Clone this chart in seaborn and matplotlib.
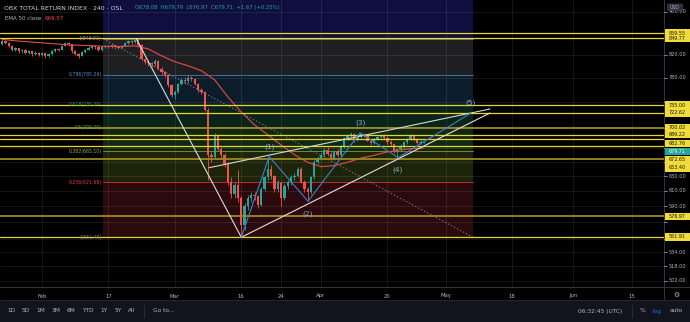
import matplotlib
matplotlib.use("Agg")
import matplotlib.pyplot as plt
from matplotlib.patches import Rectangle, FancyBboxPatch
from matplotlib.lines import Line2D
import numpy as np
import pandas as pd
import seaborn as sns

# ---------------- data ----------------
# 4h candles of the OBX total return index; bar 0 = first bar of February
bar_start = -12
opens = [840, 845, 842, 836, 828, 832, 826, 829, 824, 826, 821, 824,
         820, 823, 818, 821, 826, 831, 829, 836, 841, 839, 826, 822,
         818, 825, 829, 833, 836, 834, 828, 834, 836, 835, 837, 834,
         833, 836, 841, 845, 843, 847, 838, 812, 808, 805, 803, 809,
         795, 790, 785, 768, 752, 756, 770, 776, 774, 780, 778, 770,
         760, 757, 728, 660, 656, 688, 668, 660, 647, 622, 606, 618,
         600, 566, 590, 600, 605, 603, 592, 612, 628, 640, 630, 612,
         620, 600, 616, 622, 628, 630, 640, 622, 612, 608, 628, 650,
         655, 659, 667, 661, 655, 665, 660, 672, 684, 689, 691, 682,
         686, 691, 688, 680, 677, 683, 686, 689, 685, 679, 675, 665,
         668, 672, 678, 683, 688, 682, 677, 678.08]
highs = [848, 846, 843, 838, 834, 833, 831, 830, 828, 827, 826, 825,
         825, 824, 823, 828, 833, 833, 838, 843, 843, 840, 828, 824,
         827, 831, 835, 838, 838, 835, 836, 838, 838, 839, 838, 836,
         838, 843, 847, 846, 848.91, 848, 839, 815, 811, 808, 812, 810,
         798, 792, 786, 770, 760, 772, 779, 782, 784, 783, 779, 772,
         763, 758, 730, 664, 692, 690, 671, 662, 650, 628, 622, 638,
         603, 594, 604, 608, 609, 605, 615, 630, 657, 645, 632, 624,
         622, 620, 625, 631, 634, 643, 642, 624, 615, 630, 652, 658,
         662, 669, 671, 664, 667, 668, 674, 686, 691, 694, 692, 687,
         692, 692, 690, 683, 685, 688, 691, 690, 687, 681, 677, 670,
         675, 680, 685, 690, 689, 684, 682, 679.79]
lows = [838, 840, 834, 826, 826, 824, 823, 821, 822, 818, 819, 817,
        818, 815, 816, 820, 825, 826, 828, 835, 836, 824, 819, 814,
        817, 823, 828, 831, 831, 826, 827, 832, 832, 833, 831, 830,
        832, 835, 840, 840, 841, 835, 810, 804, 801, 799, 801, 793,
        787, 781, 765, 748, 745, 754, 768, 770, 772, 774, 767, 757,
        753, 726, 625, 650, 654, 665, 655, 643, 618, 600, 600, 596,
        551.49, 560, 585, 596, 598, 588, 590, 610, 625, 626, 608, 608,
        590, 598, 612, 618, 624, 628, 620, 608, 597, 606, 626, 646,
        652, 656, 658, 652, 653, 657, 658, 670, 682, 686, 679, 680,
        684, 686, 680, 674, 675, 681, 684, 683, 676, 672, 662, 655.7,
        665, 670, 676, 681, 680, 675, 675, 676.97]
closes = [845, 842, 836, 828, 832, 826, 829, 824, 826, 821, 824, 820,
          823, 818, 821, 826, 831, 829, 836, 841, 839, 826, 822, 818,
          825, 829, 833, 836, 834, 828, 834, 836, 835, 837, 834, 833,
          836, 841, 845, 843, 847, 838, 812, 808, 805, 803, 809, 795,
          790, 785, 768, 752, 756, 770, 776, 774, 780, 778, 770, 760,
          757, 728, 660, 656, 688, 668, 660, 647, 622, 606, 618, 600,
          566, 590, 600, 605, 603, 592, 612, 628, 640, 630, 612, 620,
          600, 616, 622, 628, 630, 640, 622, 612, 608, 628, 650, 655,
          659, 667, 661, 655, 665, 660, 672, 684, 689, 691, 682, 686,
          691, 688, 680, 677, 683, 686, 689, 685, 679, 675, 665, 668,
          672, 678, 683, 688, 682, 677, 678.04, 679.71]

# EMA 50 of close
ema_bars = [-12, -8, -4, 0, 4, 8, 12, 16, 20, 24, 28, 32, 36, 40, 44, 48,
            52, 56, 60, 64, 68, 72, 76, 80, 84, 88, 92, 96, 100, 104, 108,
            112, 115]
ema_values = [847.9, 845.2, 843.4, 841.5, 839.6, 837.8, 836.9, 836.0,
              835.0, 835.0, 836.0, 830.5, 818.0, 807.6, 800.6, 792.0,
              776.4, 748.0, 724.0, 704.0, 689.0, 674.0, 660.0, 649.0,
              643.0, 644.5, 649.0, 655.0, 659.0, 664.0, 667.0, 669.0,
              669.57]

date_tick_labels = ["Feb", "17", "Mar", "16", "24", "Apr", "20", "May", "18", "Jun", "15"]
date_tick_bars = [0, 20, 40, 60, 72, 84, 104, 121.7, 141.6, 160, 177.7]

# price scale: grid levels, and the ones whose labels stay uncovered
price_ticks = [900, 860, 820, 780, 740, 700, 670, 650, 630, 610, 590,
               570, 550, 534, 518, 502]
price_tick_labels = [900, 820, 780, 630, 610, 590, 534, 518, 502]

# horizontal support / resistance levels
level_prices = [859.55, 849.77, 735.00, 722.62, 700.02, 689.22, 682.76,
                672.65, 653.40, 576.97, 551.91]
level_dim = [False, False, False, False, True, False, False, False, True, True, False]
level_label_shift = [0, 0, 0, 0, 0, 0, 4.3, 14.0, 8.7, 0, 0]

# Fibonacci retracement
fib_ratios = [0, 0.236, 0.382, 0.5, 0.618, 0.786, 1]
fib_prices = [551.49, 621.68, 665.10, 700.20, 735.29, 785.26, 848.91]
fib_start_bar, fib_end_bar = 18.4, 129.8

# Elliott wave count
wave_bars = [60, 68.4, 80.1, 95.8, 107.2, 129.2]
wave_prices = [551.49, 657.1, 596.5, 692.1, 655.7, 722.62]
wave_names = ["", "(1)", "(2)", "(3)", "(4)", "(5)"]
wave_label_dy = [0, 7, -9, 7, -9, 7]

swing_bars, swing_prices = [28.4, 60], [848.91, 551.49]
wedge_upper_bars, wedge_upper_prices = [50.3, 134.9], [641.5, 728.8]
wedge_lower_bars, wedge_lower_prices = [60, 134.9], [551.49, 722.5]

last_price = closes[-1]
ema_last = ema_values[-1]

# ---------------- styling ----------------
sns.set_theme(style="dark")
plt.rcParams['font.family'] = ['DejaVu Sans']

W, H = 690, 322
BG = "#000000"
TXT = "#b2b5be"
UP, DOWN = "#26a69a", "#ef5350"
YEL, YEL_DIM = "#e9d62c", "#9c8a22"
GRID = (1, 1, 1, 0.085)

fig = plt.figure(figsize=(W / 100, H / 100), dpi=100, facecolor=BG)
ax = fig.add_axes([0, 35 / H, 664 / W, 287 / H])
ax.set_facecolor(BG)
ax.set_yscale('log')
ax.set_ylim(495.0, 923.6)
ax.set_xlim(-12.65, 187.3)
ax.set_xticks([])
ax.set_yticks([])
ax.yaxis.set_minor_locator(matplotlib.ticker.NullLocator())
for s in ax.spines.values():
    s.set_visible(False)

def fx(px):
    return px / W

def fy(py):
    return 1 - py / H

# fib zone fills
zone_colors = ["#2a0a0c", "#1d2409", "#0f2713", "#0a2419", "#0b1d2a", "#1f1f22"]
for i in range(len(fib_prices) - 1):
    ax.fill_between([fib_start_bar, fib_end_bar], fib_prices[i], fib_prices[i + 1],
                    color=zone_colors[i], lw=0, zorder=0.5)
ax.fill_between([fib_start_bar, fib_end_bar], fib_prices[-1], 923.6,
                color="#0e0f3e", lw=0, zorder=0.5)

# grid
for b in date_tick_bars:
    ax.axvline(b, color=GRID, lw=0.7, zorder=1)
for p in price_ticks:
    ax.axhline(p, color=GRID, lw=0.7, zorder=1)

# fib level lines and labels
fib_colors = ["#787b86", "#f23645", "#8fb03a", "#4caf50", "#2f9a6a", "#4f8fcf", "#8a8d96"]
for r, p, c in zip(fib_ratios, fib_prices, fib_colors):
    ax.plot([fib_start_bar, fib_end_bar], [p, p], color=c, lw=0.7, alpha=0.75, zorder=1.5)
    ax.text(fib_start_bar - 0.4, p, f"{r:g}({p:.2f})", color=c, fontsize=3.3,
            ha='right', va='center', zorder=5)
ax.plot([fib_start_bar, fib_end_bar], [fib_prices[-1], fib_prices[0]],
        color="#787b86", lw=0.7, ls=(0, (1.5, 2.0)), zorder=1.6)

# candles
x = np.arange(len(closes)) + bar_start
o = np.array(opens, float)
c = np.array(closes, float)
hi = np.array(highs, float)
lo = np.array(lows, float)
cols = np.where(c >= o, UP, DOWN)
ax.vlines(x, lo, hi, colors=cols, lw=0.6, zorder=2)
bottom = np.minimum(o, c)
height = np.maximum(np.abs(c - o), 0.6)
ax.bar(x, height, bottom=bottom, width=0.7, color=cols, lw=0, zorder=2.1)

# EMA 50
ema_df = pd.DataFrame({"bar": ema_bars, "ema": ema_values})
sns.lineplot(data=ema_df, x="bar", y="ema", ax=ax, color="#e8494f", lw=0.8,
             zorder=2.5, legend=False)
ax.set_xlabel("")
ax.set_ylabel("")
ax.set_xlim(-12.65, 187.3)
ax.set_ylim(495.0, 923.6)

# horizontal levels
for p, dim in zip(level_prices, level_dim):
    ax.axhline(p, color=YEL_DIM if dim else YEL, lw=1.3 if dim else 0.9, zorder=3)

# trend lines
ax.plot(swing_bars, swing_prices, color="#dcdcdc", lw=0.8, zorder=4)
ax.plot(wedge_upper_bars, wedge_upper_prices, color="#d6d6d6", lw=0.8, zorder=4)
ax.plot(wedge_lower_bars, wedge_lower_prices, color="#eadada", lw=0.8, zorder=4)

# wave count
ax.plot(wave_bars, wave_prices, color="#3b82cc", lw=0.8, zorder=4.5)
for b, p, n, dy in zip(wave_bars, wave_prices, wave_names, wave_label_dy):
    if n:
        ax.annotate(n, (b, p), xytext=(0, dy), textcoords='offset points',
                    ha='center', va='center', color="#86acd6", fontsize=5.3, zorder=5)

# ---------------- frame / axes texts ----------------
fig.add_artist(Line2D([fx(0), fx(690)], [fy(287), fy(287)], color="#30343e", lw=0.8))
fig.add_artist(Line2D([fx(664), fx(664)], [fy(0), fy(300)], color="#30343e", lw=0.8))

def price_to_py(p):
    disp = ax.transData.transform((0, p))[1]
    return H - disp

# price ticks
for p in price_ticks:
    py = price_to_py(p)
    fig.add_artist(Line2D([fx(664), fx(666.5)], [fy(py), fy(py)], color=TXT, lw=0.5))
for p in price_tick_labels:
    py = price_to_py(p)
    fig.text(fx(677.5), fy(py), f"{p:.2f}", color=TXT, fontsize=3.6,
             ha='center', va='center')

# level labels on the price scale
def scale_label(py, text, fc, tc):
    fig.add_artist(Rectangle((fx(665), fy(py + 3.7)), fx(25), 7.4 / H,
                             facecolor=fc, edgecolor='none', zorder=10))
    fig.text(fx(677.5), fy(py), text, color=tc, fontsize=3.5, ha='center',
             va='center', zorder=11)

for p, sh in zip(level_prices, level_label_shift):
    scale_label(price_to_py(p) + sh, f"{p:.2f}", "#efdc3c", "#1b1b10")
scale_label(price_to_py(last_price) + 10.5, f"{last_price:.2f}", UP, "#e6f4f2")

# USD badge
fig.add_artist(FancyBboxPatch((fx(667.5), fy(10.5)), fx(15), 6.5 / H,
                              boxstyle="round,pad=0,rounding_size=0.003",
                              facecolor="#2a2e39", edgecolor="#50535e", lw=0.4, zorder=12))
fig.text(fx(675), fy(7.2), "USD", color=TXT, fontsize=3.3, ha='center', va='center', zorder=13)

# time axis labels
for b, lab in zip(date_tick_bars, date_tick_labels):
    px = ax.transData.transform((b, 600))[0]
    fig.text(px / W, fy(296), lab, color=TXT, fontsize=3.8, ha='center', va='center')
fig.text(fx(676.5), fy(294.5), "\u2699", color=TXT, fontsize=5, ha='center', va='center')

# legend rows
fig.text(fx(4), fy(8), "OBX TOTAL RETURN INDEX \u00b7 240 \u00b7 OSL", color="#d1d4dc",
         fontsize=4.4, ha='left', va='center')
chg = closes[-1] - closes[-2]
ohlc = (f"O{opens[-1]:.2f}  H{highs[-1]:.2f}  L{lows[-1]:.2f}  C{closes[-1]:.2f}  "
        f"{chg:+.2f} ({chg / closes[-2] * 100:+.2f}%)")
fig.text(fx(135), fy(8), ohlc, color=UP, fontsize=3.8, ha='left', va='center')
fig.text(fx(5), fy(19), "EMA 50 close", color=TXT, fontsize=4.0, ha='left', va='center')
fig.text(fx(45), fy(19), f"{ema_last:.2f}", color="#f04a50", fontsize=4.0, ha='left', va='center')

# bottom toolbar
fig.add_artist(Rectangle((0, 0), 1, 22 / H, facecolor="#11141c", edgecolor='none', zorder=0))
fig.add_artist(Line2D([0, 1], [fy(300), fy(300)], color="#262a34", lw=0.6))
for lab, px in zip(["1D", "5D", "1M", "3M", "6M", "YTD", "1Y", "5Y", "All"],
                   [11, 26, 41, 56, 71, 88, 104, 118, 132]):
    fig.text(fx(px), fy(311), lab, color=TXT, fontsize=4.2, ha='center', va='center')
fig.add_artist(Line2D([fx(144), fx(144)], [fy(305), fy(317)], color="#2e323c", lw=0.6))
fig.text(fx(164), fy(311), "Go to...", color=TXT, fontsize=4.2, ha='center', va='center')
fig.text(fx(600), fy(311), "06:32:45 (UTC)", color=TXT, fontsize=4.2, ha='center', va='center')
fig.add_artist(Line2D([fx(632), fx(632)], [fy(305), fy(317)], color="#2e323c", lw=0.6))
fig.text(fx(642), fy(311), "%", color=TXT, fontsize=4.2, ha='center', va='center')
fig.text(fx(657), fy(311), "log", color="#2962ff", fontsize=4.2, ha='center', va='center')
fig.text(fx(676), fy(311), "auto", color=TXT, fontsize=4.2, ha='center', va='center')

fig.savefig("out.png", dpi=100, facecolor=BG)
